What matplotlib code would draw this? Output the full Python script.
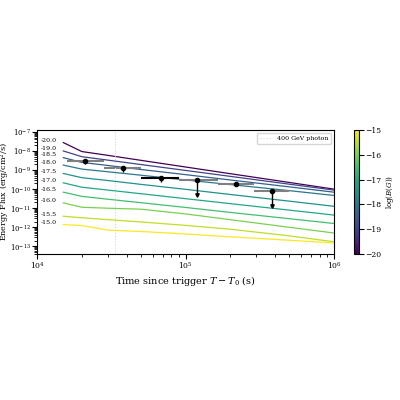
import numpy as np
import matplotlib.pyplot as plt
import matplotlib as mpl

plt.rcParams['font.family'] = 'DejaVu Serif'
plt.rcParams['mathtext.fontset'] = 'dejavuserif'

# model curves: log10 flux at shared times
t_model = [1.5e4, 2e4, 3e4, 5e4, 1e5, 2e5, 5e5, 1e6]
log_b = [-20.0, -19.0, -18.5, -18.0, -17.5, -17.0, -16.5, -16.0, -15.5, -15.0]
log_flux = [
    [-7.56, -8.03, -8.23, -8.49, -8.84, -9.19, -9.65, -10.0],
    [-8.0, -8.3, -8.48, -8.71, -9.02, -9.33, -9.74, -10.05],
    [-8.35, -8.6, -8.76, -8.97, -9.24, -9.52, -9.88, -10.16],
    [-8.74, -8.95, -9.09, -9.27, -9.52, -9.76, -10.08, -10.33],
    [-9.18, -9.4, -9.55, -9.75, -10.01, -10.28, -10.63, -10.9],
    [-9.67, -9.9, -10.05, -10.24, -10.5, -10.76, -11.1, -11.36],
    [-10.16, -10.38, -10.53, -10.71, -10.96, -11.22, -11.55, -11.8],
    [-10.72, -10.95, -11.0, -11.05, -11.3, -11.6, -12.0, -12.3],
    [-11.42, -11.5, -11.6, -11.72, -11.9, -12.1, -12.45, -12.76],
    [-11.86, -11.91, -12.15, -12.22, -12.35, -12.5, -12.68, -12.82],
]
label_y = [-7.47, -7.87, -8.2, -8.62, -9.07, -9.56, -10.04, -10.58, -11.32, -11.75]

# observed points
t_obs = [2.1e4, 3.8e4, 6.8e4, 1.2e5, 2.2e5, 3.8e5]
t_lo = [1.6e4, 2.8e4, 5.0e4, 9.0e4, 1.65e5, 2.9e5]
t_hi = [2.8e4, 5.0e4, 9.0e4, 1.65e5, 2.9e5, 5.0e5]
f_obs = [-8.54, -8.89, -9.42, -9.53, -9.72, -10.09]
f_low = [-8.66, -9.1, -9.62, -10.3, -9.84, -10.9]
f_up = [-8.46, -8.8, -9.3, -9.5, -9.62, -10.0]
x_colors = ['gray', 'gray', 'black', 'gray', 'gray', 'gray']

t_photon = 3.35e4

fig = plt.figure(figsize=(4, 4), dpi=100)
ax = fig.add_axes([0.093, 0.365, 0.742, 0.31])
cmap = mpl.colormaps['viridis']
norm = mpl.colors.Normalize(-20, -15)

for b, lf in zip(log_b, log_flux):
    ax.plot(t_model, 10 ** np.array(lf), color=cmap(norm(b)), lw=0.9)
for b, ly in zip(log_b, label_y):
    ax.text(1.05e4, 10 ** ly, '%.1f' % b, fontsize=4.5, va='center')

for i in range(len(t_obs)):
    ax.hlines(10 ** f_obs[i], t_lo[i], t_hi[i], color=x_colors[i], lw=1.5)
    ax.vlines(t_obs[i], 10 ** f_low[i], 10 ** f_up[i], color='black', lw=1)
    ax.plot(t_obs[i], 10 ** f_obs[i], 'o', color='black', ms=3)
for i in [3, 5]:
    ax.plot(t_obs[i], 10 ** f_low[i], marker='v', color='black', ms=2.5)

ax.axvline(t_photon, color='lightgray', ls=':', lw=0.8, label='400 GeV photon')
ax.set_xscale('log')
ax.set_yscale('log')
ax.set_xlim(1e4, 1e6)
ax.set_ylim(10 ** -13.4, 10 ** -6.9)
ax.set_xlabel(r'Time since trigger $T-T_0$ (s)', fontsize=7, labelpad=2)
ax.set_ylabel(r'Energy Flux (erg/cm$^2$/s)', fontsize=5.8)
ax.yaxis.set_label_coords(-0.085, 0.5)
ax.tick_params(labelsize=5.5, pad=1)
ax.tick_params(axis='y', labelsize=5)
ax.legend(loc='upper right', fontsize=4.5)

cax = fig.add_axes([0.885, 0.365, 0.012, 0.31])
cb = fig.colorbar(mpl.cm.ScalarMappable(norm=norm, cmap=cmap), cax=cax)
cb.set_label(r'$\log(B(G))$', fontsize=5, labelpad=2)
cb.ax.tick_params(labelsize=5.5, pad=1)

fig.savefig('out.png', dpi=100)
